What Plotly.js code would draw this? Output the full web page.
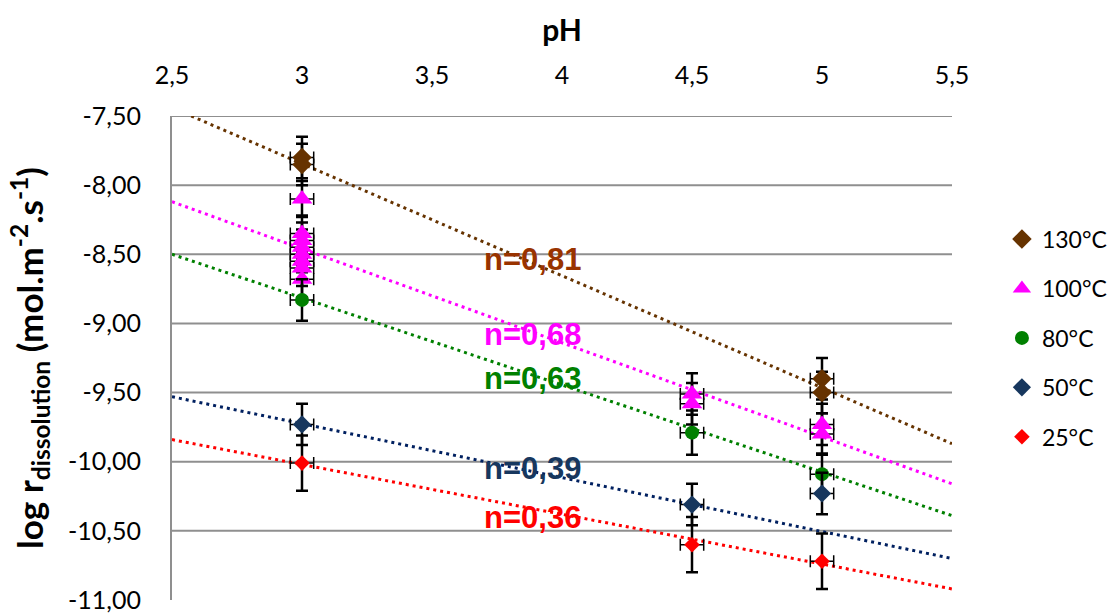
<!DOCTYPE html>
<html>
<head>
<meta charset="utf-8">
<script src="https://cdn.plot.ly/plotly-3.0.1.min.js"></script>
<style>html,body{margin:0;padding:0;background:#fff;} #chart{width:1115px;height:613px;}</style>
</head>
<body>
<div id="chart"></div>
<script>
// ---- data ----
const seriesNames = ['130°C', '100°C', '80°C', '50°C', '25°C'];

const ph130 = [3, 3, 5, 5];
const log130 = [-7.80, -7.85, -9.40, -9.50];
const err130 = [0.15, 0.15, 0.15, 0.15];

const ph100 = [3, 3, 3, 3, 3, 3, 3, 3, 4.5, 4.5, 5, 5];
const log100 = [-8.10, -8.35, -8.40, -8.45, -8.50, -8.55, -8.60, -8.68, -9.51, -9.58, -9.73, -9.80];
const err100 = [0.13, 0.13, 0.13, 0.13, 0.13, 0.13, 0.13, 0.13, 0.15, 0.15, 0.15, 0.15];

const ph80 = [3, 4.5, 5];
const log80 = [-8.83, -9.79, -10.09];
const err80 = [0.15, 0.16, 0.15];

const ph50 = [3, 4.5, 5];
const log50 = [-9.73, -10.31, -10.23];
const err50 = [0.15, 0.15, 0.15];

const ph25 = [3, 4.5, 5];
const log25 = [-10.01, -10.60, -10.72];
const err25 = [0.20, 0.20, 0.20];

const phErr = 0.045;

// trend lines (end values read at pH 2.5 and 5.5)
const trendPH = [2.5, 5.5];
const trend130 = [-7.44, -9.87];
const trend100 = [-8.12, -10.16];
const trend80 = [-8.50, -10.39];
const trend50 = [-9.53, -10.70];
const trend25 = [-9.84, -10.92];

const slopeLabels = ['n=0,81', 'n=0,68', 'n=0,63', 'n=0,39', 'n=0,36'];
const slopeLabelPH = [3.885, 3.885, 3.885, 3.885, 3.885];
const slopeLabelLog = [-8.54, -9.08, -9.40, -10.05, -10.40];

const xTickVals = [2.5, 3, 3.5, 4, 4.5, 5, 5.5];
const xTickText = ['2,5', '3', '3,5', '4', '4,5', '5', '5,5'];
const yTickVals = [-11, -10.5, -10, -9.5, -9, -8.5, -8, -7.5];
const yTickText = ['-11,00', '-10,50', '-10,00', '-9,50', '-9,00', '-8,50', '-8,00', '-7,50'];

// ---- styles ----
const markerColors = ['#663300', '#FF00FF', '#008000', '#17375E', '#FF0000'];
const lineColors = ['#663300', '#FF00FF', '#008000', '#002060', '#FF0000'];
const textColors = ['#993300', '#FF00FF', '#008000', '#17375E', '#FF0000'];
const symbols = ['diamond', 'triangle-up', 'circle', 'diamond', 'diamond'];
const sizes = [15, 18, 14, 14, 12];

const xs = [ph130, ph100, ph80, ph50, ph25];
const ys = [log130, log100, log80, log50, log25];
const errs = [err130, err100, err80, err50, err25];
const trends = [trend130, trend100, trend80, trend50, trend25];

const traces = [];
trends.forEach((t, i) => {
  traces.push({
    x: trendPH, y: t, type: 'scatter', mode: 'lines',
    line: {color: lineColors[i], width: 3, dash: '3px,4px'},
    showlegend: false, hoverinfo: 'skip'
  });
});
xs.forEach((x, i) => {
  traces.push({
    x: x, y: ys[i], type: 'scatter', mode: 'markers',
    name: seriesNames[i], legendgroup: 'g' + i,
    marker: {symbol: symbols[i], size: sizes[i], color: markerColors[i]},
    error_y: {type: 'data', array: errs[i], visible: true, color: '#000', thickness: 2.5, width: 6},
    error_x: {type: 'constant', value: phErr, visible: true, color: '#000', thickness: 1.5, width: 6}
  });
});

const shapes = yTickVals.filter(v => v > yTickVals[0]).map(v => ({
  type: 'line', xref: 'paper', x0: 0, x1: 1, yref: 'y', y0: v, y1: v,
  line: {color: '#8F8F8F', width: 2}, layer: 'below'
}));

const annotations = slopeLabels.map((s, i) => ({
  x: slopeLabelPH[i], y: slopeLabelLog[i], xref: 'x', yref: 'y',
  text: '<b>' + s + '</b>', showarrow: false, xanchor: 'center', yanchor: 'middle',
  font: {family: 'Liberation Sans, Arial, sans-serif', size: 31, color: textColors[i]}
}));

const layout = {
  width: 1115, height: 613,
  margin: {l: 172, r: 163, t: 116, b: 13, autoexpand: false},
  paper_bgcolor: '#fff', plot_bgcolor: '#fff',
  font: {family: 'Lato, sans-serif', color: '#000'},
  separators: ', ',
  xaxis: {
    side: 'top', range: [2.5, 5.5], tickvals: xTickVals, ticktext: xTickText,
    showgrid: false, zeroline: false, showline: false, ticks: '',
    ticklabelstandoff: 26, tickfont: {size: 25}, automargin: false,
    title: {text: '<b>pH</b>', font: {size: 30}, standoff: 8}
  },
  yaxis: {
    range: [-11, -7.5], tickvals: yTickVals, ticktext: yTickText,
    showgrid: false, zeroline: false, showline: true, linecolor: '#8F8F8F', linewidth: 2,
    ticks: '', ticklabelstandoff: 24, tickfont: {size: 25}, ticklabeloverflow: 'allow',
    automargin: false,
    title: {text: '<b>log r<sub>dissolution</sub> (mol.m<sup>-2</sup>.s<sup>-1</sup>)</b>', font: {size: 35}, standoff: 14}
  },
  legend: {
    x: 1.064, xanchor: 'left', y: 0.79, yanchor: 'top',
    font: {size: 23}, tracegroupgap: 16.5, bgcolor: 'rgba(0,0,0,0)'
  },
  shapes: shapes,
  annotations: annotations
};

Plotly.newPlot('chart', traces, layout, {displayModeBar: false, staticPlot: true});
</script>
</body>
</html>
